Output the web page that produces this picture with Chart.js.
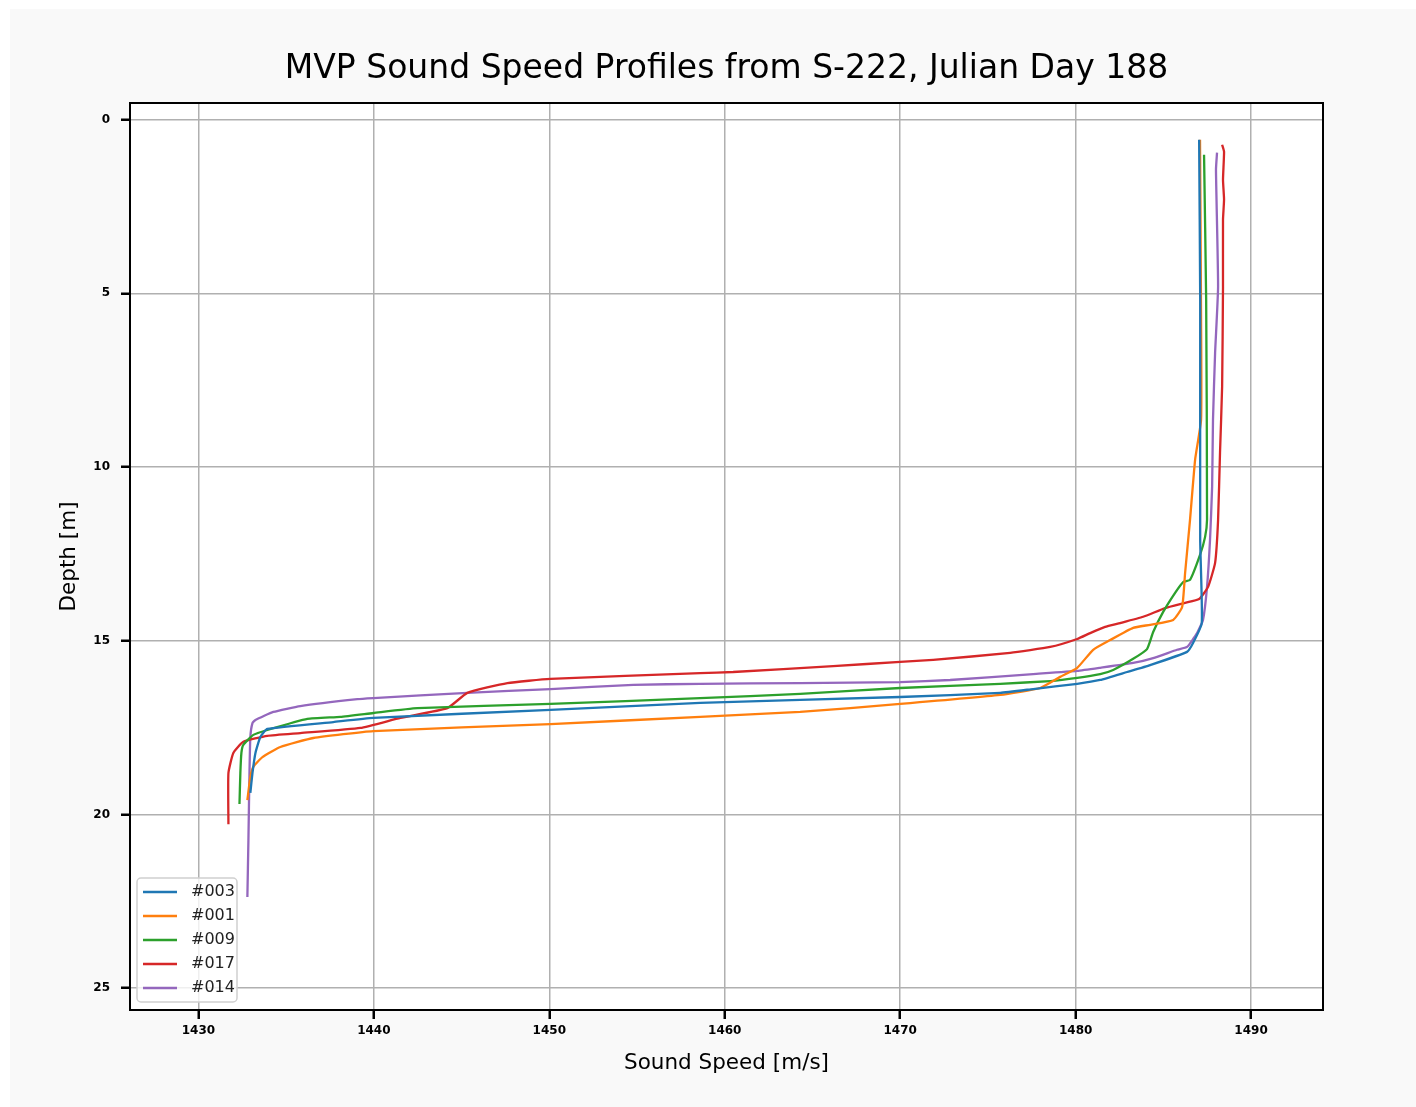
<!DOCTYPE html>
<html>
<head>
<meta charset="utf-8">
<script src="https://cdn.jsdelivr.net/npm/chart.js@4.4.0/dist/chart.umd.min.js"></script>
<style>
  html, body { margin: 0; padding: 0; background: #ffffff; }
  #wrap { position: absolute; left: 0; top: 0; width: 1416px; height: 1107px; }
</style>
</head>
<body>
<div id="wrap"><canvas id="ssp" width="1416" height="1107"></canvas></div>
<script>
// profile names (legend order)
const profiles = ['#003', '#001', '#009', '#017', '#014'];
const colors = ['#1f77b4', '#ff7f0e', '#2ca02c', '#d62728', '#9467bd'];

// sound speed [m/s] and depth [m] per cast
const speed003 = [1487.04, 1487.1, 1487.1, 1487.19, 1486.7, 1486.35, 1484.25, 1482.93, 1481.4, 1480.09, 1477.58, 1475.7, 1470.0, 1458.6, 1450.06, 1439.97, 1437.69, 1433.93, 1433.53, 1433.25, 1433.08, 1432.96];
const depth003 = [0.58, 5.18, 12.1, 14.49, 15.06, 15.32, 15.70, 15.90, 16.13, 16.24, 16.39, 16.50, 16.62, 16.79, 16.99, 17.22, 17.34, 17.54, 17.77, 18.23, 18.81, 19.38];

const speed001 = [1487.09, 1487.15, 1487.15, 1486.81, 1486.52, 1486.24, 1486.07, 1485.56, 1484.25, 1483.28, 1481.97, 1481.0, 1480.09, 1479.12, 1477.98, 1475.7, 1470.0, 1464.3, 1458.6, 1450.06, 1439.97, 1436.55, 1434.67, 1433.65, 1433.13, 1432.96, 1432.79];
const depth001 = [0.58, 5.76, 8.64, 9.79, 11.52, 13.05, 14.03, 14.40, 14.54, 14.63, 14.98, 15.26, 15.78, 16.04, 16.36, 16.56, 16.82, 17.05, 17.19, 17.40, 17.60, 17.80, 18.06, 18.35, 18.63, 18.92, 19.59];

const speed009 = [1487.32, 1487.44, 1487.49, 1487.38, 1487.09, 1486.52, 1486.13, 1485.67, 1484.99, 1484.42, 1484.07, 1483.28, 1482.14, 1481.40, 1480.09, 1478.55, 1475.70, 1470.0, 1464.3, 1458.6, 1450.06, 1442.48, 1439.97, 1438.09, 1436.21, 1433.93, 1433.13, 1432.56, 1432.45, 1432.39, 1432.34];
const depth009 = [1.01, 5.18, 11.52, 12.01, 12.53, 13.25, 13.31, 13.62, 14.17, 14.75, 15.24, 15.52, 15.84, 15.96, 16.07, 16.16, 16.24, 16.36, 16.53, 16.65, 16.82, 16.94, 17.08, 17.19, 17.25, 17.57, 17.71, 18.0, 18.23, 18.81, 19.70];

const speed017 = [1488.35, 1488.46, 1488.40, 1488.46, 1488.40, 1488.40, 1488.35, 1488.23, 1488.12, 1487.95, 1487.55, 1487.04, 1486.24, 1485.10, 1483.85, 1482.54, 1481.68, 1480.83, 1480.09, 1478.55, 1476.27, 1471.88, 1470.0, 1466.18, 1460.48, 1458.60, 1450.06, 1447.61, 1445.33, 1444.19, 1441.51, 1439.23, 1435.81, 1433.93, 1432.56, 1431.99, 1431.71, 1431.71];
const depth017 = [0.72, 0.92, 1.73, 2.30, 2.88, 4.81, 7.69, 9.59, 11.52, 12.76, 13.45, 13.80, 13.91, 14.06, 14.31, 14.49, 14.60, 14.78, 14.95, 15.18, 15.35, 15.55, 15.61, 15.73, 15.90, 15.93, 16.10, 16.22, 16.50, 16.94, 17.22, 17.51, 17.66, 17.74, 17.91, 18.23, 18.81, 20.28];

const speed014 = [1488.06, 1488.0, 1488.12, 1487.95, 1487.83, 1487.78, 1487.66, 1487.49, 1487.26, 1486.92, 1486.35, 1485.78, 1484.42, 1483.28, 1481.40, 1480.09, 1477.58, 1472.85, 1470.0, 1464.30, 1458.60, 1454.79, 1450.06, 1445.33, 1439.97, 1439.06, 1435.81, 1434.27, 1433.25, 1433.08, 1432.96, 1432.91, 1432.85, 1432.79];
const depth014 = [0.95, 1.44, 4.81, 6.71, 8.64, 10.57, 12.10, 13.45, 14.40, 14.78, 15.18, 15.26, 15.50, 15.64, 15.78, 15.87, 15.96, 16.13, 16.19, 16.22, 16.24, 16.27, 16.39, 16.50, 16.65, 16.68, 16.88, 17.05, 17.28, 17.37, 17.77, 18.81, 20.74, 22.38];

const speedTicks = [1430, 1440, 1450, 1460, 1470, 1480, 1490];
const depthTicks = [0, 5, 10, 15, 20, 25];

const speeds = [speed003, speed001, speed009, speed017, speed014];
const depths = [depth003, depth001, depth009, depth017, depth014];

const FONT = "'DejaVu Sans', sans-serif";
const TICKFONT = "'DejaVu Sans', sans-serif";

const datasets = profiles.map(function (name, i) {
    return {
        label: name,
        data: speeds[i].map(function (s, j) { return { x: s, y: depths[i][j] }; }),
        borderColor: colors[i],
        backgroundColor: colors[i],
        borderWidth: 2.3,
        pointRadius: 0,
        showLine: true,
        tension: 0.15
    };
});

// page + plot backgrounds, full frame, and matplotlib-style legend
const figurePlugin = {
    id: 'figure',
    beforeDraw: function (chart) {
        const c = chart.ctx;
        const a = chart.chartArea;
        c.save();
        c.fillStyle = '#f9f9f9';
        c.fillRect(10, 9, chart.width - 10, chart.height - 9);
        c.fillStyle = '#ffffff';
        c.fillRect(a.left, a.top, a.right - a.left, a.bottom - a.top);
        c.restore();
    },
    afterDraw: function (chart) {
        const c = chart.ctx;
        const a = chart.chartArea;
        c.save();
        c.strokeStyle = '#000';
        c.lineWidth = 2;
        c.strokeRect(a.left, a.top, a.right - a.left, a.bottom - a.top);

        // legend box
        const bx = a.left + 7, by = a.bottom - 132, bw = 100, bh = 124;
        c.beginPath();
        c.roundRect(bx, by, bw, bh, 4);
        c.fillStyle = 'rgba(255,255,255,0.8)';
        c.fill();
        c.strokeStyle = '#d0d0d0';
        c.lineWidth = 1.5;
        c.stroke();
        c.font = '16px ' + FONT;
        c.textBaseline = 'middle';
        c.textAlign = 'left';
        chart.data.datasets.forEach(function (ds, i) {
            const y = by + 14 + i * 24;
            c.strokeStyle = ds.borderColor;
            c.lineWidth = 2.3;
            c.beginPath();
            c.moveTo(bx + 6, y);
            c.lineTo(bx + 40, y);
            c.stroke();
            c.fillStyle = '#222';
            c.fillText(ds.label, bx + 54, y);
        });
        c.restore();
    }
};

const ctx = document.getElementById('ssp').getContext('2d');
const sspChart = new Chart(ctx, {
    type: 'scatter',
    data: { datasets: datasets },
    plugins: [figurePlugin],
    options: {
        responsive: false,
        animation: false,
        layout: { padding: { left: 0, right: 93, top: 0, bottom: 0 } },
        plugins: {
            legend: { display: false },
            tooltip: { enabled: false },
            title: {
                display: true,
                fullSize: false,
                text: 'MVP Sound Speed Profiles from S-222, Julian Day 188',
                color: '#000',
                font: { family: FONT, size: 33, weight: 'normal', lineHeight: 1.2 },
                padding: { top: 50, bottom: 13.4 }
            }
        },
        scales: {
            x: {
                type: 'linear',
                min: 1426.1,
                max: 1494.1,
                afterBuildTicks: function (scale) {
                    scale.ticks = speedTicks.map(function (v) { return { value: v }; });
                },
                afterFit: function (scale) { scale.height = 97; },
                grid: { color: '#b0b0b0', lineWidth: 1.5, tickLength: 9, tickColor: '#000', tickWidth: 2.5 },
                border: { color: '#000', width: 2 },
                ticks: {
                    color: '#000',
                    padding: 5,
                    maxRotation: 0,
                    font: { family: TICKFONT, size: 12, weight: 'bold' },
                    callback: function (v) { return String(v); }
                },
                title: {
                    display: true,
                    text: 'Sound Speed [m/s]',
                    color: '#000',
                    font: { family: FONT, size: 21.5, lineHeight: 1.2 },
                    padding: { top: 0, bottom: 31 }
                }
            },
            y: {
                type: 'linear',
                reverse: true,
                min: -0.48,
                max: 25.63,
                afterBuildTicks: function (scale) {
                    scale.ticks = depthTicks.map(function (v) { return { value: v }; });
                },
                afterFit: function (scale) { scale.width = 130; },
                grid: { color: '#b0b0b0', lineWidth: 1.5, tickLength: 9, tickColor: '#000', tickWidth: 2.5 },
                border: { color: '#000', width: 2 },
                ticks: {
                    color: '#000',
                    padding: 11,
                    font: { family: TICKFONT, size: 12, weight: 'bold' },
                    callback: function (v) { return String(v); }
                },
                title: {
                    display: true,
                    text: 'Depth [m]',
                    color: '#000',
                    font: { family: FONT, size: 21.5, lineHeight: 1.2 },
                    padding: { top: 57, bottom: 0 }
                }
            }
        }
    }
});
</script>
</body>
</html>
